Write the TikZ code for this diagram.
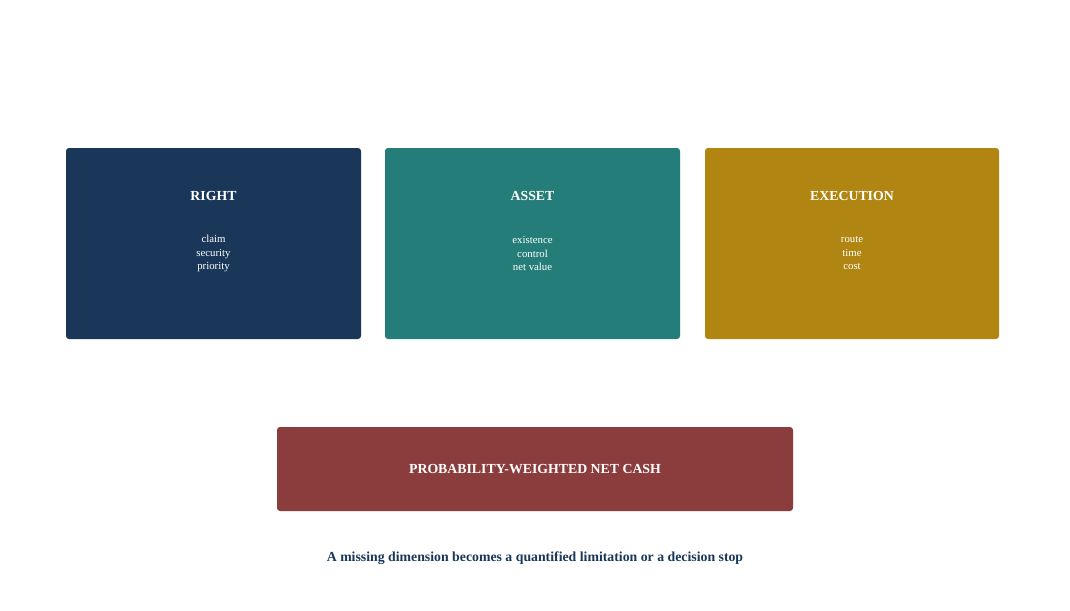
\documentclass[tikz,border=0pt]{standalone}
\usepackage{fontspec}
\setmainfont{Liberation Serif}
\definecolor{cnavy}{HTML}{1A375A}
\definecolor{cteal}{HTML}{247D78}
\definecolor{cgold}{HTML}{B08511}
\definecolor{cred}{HTML}{8B3D3D}
\begin{document}
\begin{tikzpicture}[x=1pt,y=-1pt,
  card/.style={fill=#1, draw=none, rounded corners=3pt},
  ttl/.style={text=white, font=\bfseries\fontsize{13.8}{16}\selectfont, anchor=center},
  items/.style={text=white, font=\fontsize{10.8}{13.5}\selectfont, align=center, anchor=center}]
\useasboundingbox (0,0) rectangle (1070,610);
\fill[white] (0,0) rectangle (1070,610);
\path[card=cnavy] (66,148) rectangle (361,339);
\path[card=cteal] (385,148) rectangle (680,339);
\path[card=cgold] (705,148) rectangle (999,339);
\path[card=cred] (277,427) rectangle (793,511);
\node[ttl] (t1) at (213.5,196) {RIGHT};
\node[ttl] (t2) at (532.5,196) {ASSET};
\node[ttl] (t3) at (852,196) {EXECUTION};
\node[items] (i1) at (213.5,253.5) {claim\\security\\priority};
\node[items] (i2) at (532.5,253.5) {existence\\control\\net value};
\node[items] (i3) at (852,253.5) {route\\time\\cost};
\node[ttl] (bt) at (535,469) {PROBABILITY-WEIGHTED NET CASH};
\node[ttl, text=cnavy] (cap) at (535,558) {A missing dimension becomes a quantified limitation or a decision stop};
\end{tikzpicture}
\end{document}
